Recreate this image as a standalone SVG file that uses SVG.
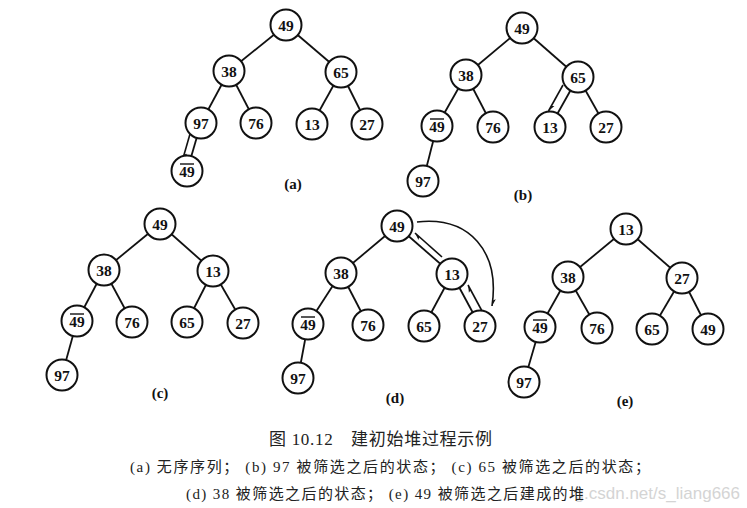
<svg xmlns="http://www.w3.org/2000/svg" width="747" height="508" viewBox="0 0 747 508">
<defs>
<style>
.e{stroke:#111;stroke-width:1.8;fill:none}
.a{stroke:#111;stroke-width:1.6;fill:none}
.n circle{fill:#fff;stroke:#111;stroke-width:2}
.n text{font-family:"Liberation Serif","DejaVu Serif",serif;font-weight:bold;font-size:15.5px;text-anchor:middle;fill:#111}
.ob{stroke:#111;stroke-width:1.4}
.lb{font-family:"Liberation Serif","DejaVu Serif",serif;font-weight:bold;font-size:15px;text-anchor:middle;fill:#111}
.cap{font-family:"Liberation Serif","Noto Sans CJK SC",serif;fill:#222}
</style>
<marker id="barb" viewBox="-10 -5 12 10" markerWidth="10" markerHeight="8" refX="0" refY="0" orient="auto" markerUnits="userSpaceOnUse">
<path d="M0,0 L-9,-3.5 L-7,0 z" fill="#111"/>
</marker>
</defs>
<rect width="747" height="508" fill="#fff"/>

<g id="connectors">
<!-- (a) -->
<line class="e" x1="286" y1="25" x2="229" y2="71"/>
<line class="e" x1="286" y1="25" x2="341" y2="72"/>
<line class="e" x1="229" y1="71" x2="201" y2="123"/>
<line class="e" x1="229" y1="71" x2="256" y2="123"/>
<line class="e" x1="341" y1="72" x2="312" y2="124"/>
<line class="e" x1="341" y1="72" x2="367" y2="124"/>
<line class="e" x1="201" y1="123" x2="187" y2="171"/>
<line class="a" x1="190" y1="134" x2="182.5" y2="160" marker-end="url(#barb)"/>
<!-- (b) -->
<line class="e" x1="522" y1="28" x2="466" y2="75"/>
<line class="e" x1="522" y1="28" x2="578" y2="77"/>
<line class="e" x1="466" y1="75" x2="437" y2="126"/>
<line class="e" x1="466" y1="75" x2="493" y2="127"/>
<line class="e" x1="578" y1="77" x2="550" y2="127"/>
<line class="e" x1="578" y1="77" x2="606" y2="127"/>
<line class="e" x1="437" y1="126" x2="423" y2="181"/>
<line class="a" x1="563" y1="85" x2="548.5" y2="111" marker-end="url(#barb)"/>
<!-- (c) -->
<line class="e" x1="160" y1="224" x2="104" y2="270"/>
<line class="e" x1="160" y1="224" x2="213" y2="271"/>
<line class="e" x1="104" y1="270" x2="77" y2="321"/>
<line class="e" x1="104" y1="270" x2="132" y2="322"/>
<line class="e" x1="213" y1="271" x2="187" y2="322"/>
<line class="e" x1="213" y1="271" x2="243" y2="323"/>
<line class="e" x1="77" y1="321" x2="62" y2="375"/>
<!-- (d) -->
<line class="e" x1="397" y1="226" x2="341" y2="273"/>
<line class="e" x1="397" y1="226" x2="452" y2="274"/>
<line class="e" x1="341" y1="273" x2="308" y2="324"/>
<line class="e" x1="341" y1="273" x2="368" y2="325"/>
<line class="e" x1="452" y1="274" x2="424" y2="326"/>
<line class="e" x1="452" y1="274" x2="480" y2="326"/>
<line class="e" x1="308" y1="324" x2="298" y2="378"/>
<line class="a" x1="442" y1="257" x2="415" y2="233" marker-end="url(#barb)"/>
<line class="a" x1="482" y1="311" x2="468" y2="285" marker-end="url(#barb)"/>
<path class="a" d="M417,222 C470,216 500,252 492,306" marker-end="url(#barb)"/>
<!-- (e) -->
<line class="e" x1="626" y1="229" x2="568" y2="277"/>
<line class="e" x1="626" y1="229" x2="682" y2="278"/>
<line class="e" x1="568" y1="277" x2="540" y2="327"/>
<line class="e" x1="568" y1="277" x2="597" y2="328"/>
<line class="e" x1="682" y1="278" x2="652" y2="329"/>
<line class="e" x1="682" y1="278" x2="708" y2="329"/>
<line class="e" x1="540" y1="327" x2="524" y2="382"/>
</g>

<!-- tree (a) -->
<g id="a49" class="n"><circle cx="286" cy="25" r="15.5"/><text x="286" y="30.5">49</text></g>
<g id="a38" class="n"><circle cx="229" cy="71" r="15.5"/><text x="229" y="76.5">38</text></g>
<g id="a65" class="n"><circle cx="341" cy="72" r="15.5"/><text x="341" y="77.5">65</text></g>
<g id="a97" class="n"><circle cx="201" cy="123" r="15.5"/><text x="201" y="128.5">97</text></g>
<g id="a76" class="n"><circle cx="256" cy="123" r="15.5"/><text x="256" y="128.5">76</text></g>
<g id="a13" class="n"><circle cx="312" cy="124" r="15.5"/><text x="312" y="129.5">13</text></g>
<g id="a27" class="n"><circle cx="367" cy="124" r="15.5"/><text x="367" y="129.5">27</text></g>
<g id="a49b" class="n"><circle cx="187" cy="171" r="15.5"/><text x="187" y="177">49</text><line class="ob" x1="180" y1="164" x2="194" y2="164"/></g>
<text class="lb" x="293" y="189">(a)</text>

<!-- tree (b) -->
<g id="b49" class="n"><circle cx="522" cy="28" r="15.5"/><text x="522" y="33.5">49</text></g>
<g id="b38" class="n"><circle cx="466" cy="75" r="15.5"/><text x="466" y="80.5">38</text></g>
<g id="b65" class="n"><circle cx="578" cy="77" r="15.5"/><text x="578" y="82.5">65</text></g>
<g id="b49b" class="n"><circle cx="437" cy="126" r="15.5"/><text x="437" y="132">49</text><line class="ob" x1="430" y1="119" x2="444" y2="119"/></g>
<g id="b76" class="n"><circle cx="493" cy="127" r="15.5"/><text x="493" y="132.5">76</text></g>
<g id="b13" class="n"><circle cx="550" cy="127" r="15.5"/><text x="550" y="132.5">13</text></g>
<g id="b27" class="n"><circle cx="606" cy="127" r="15.5"/><text x="606" y="132.5">27</text></g>
<g id="b97" class="n"><circle cx="423" cy="181" r="15.5"/><text x="423" y="186.5">97</text></g>
<text class="lb" x="523" y="200">(b)</text>

<!-- tree (c) -->
<g id="c49" class="n"><circle cx="160" cy="224" r="15.5"/><text x="160" y="229.5">49</text></g>
<g id="c38" class="n"><circle cx="104" cy="270" r="15.5"/><text x="104" y="275.5">38</text></g>
<g id="c13" class="n"><circle cx="213" cy="271" r="15.5"/><text x="213" y="276.5">13</text></g>
<g id="c49b" class="n"><circle cx="77" cy="321" r="15.5"/><text x="77" y="327">49</text><line class="ob" x1="70" y1="314" x2="84" y2="314"/></g>
<g id="c76" class="n"><circle cx="132" cy="322" r="15.5"/><text x="132" y="327.5">76</text></g>
<g id="c65" class="n"><circle cx="187" cy="322" r="15.5"/><text x="187" y="327.5">65</text></g>
<g id="c27" class="n"><circle cx="243" cy="323" r="15.5"/><text x="243" y="328.5">27</text></g>
<g id="c97" class="n"><circle cx="62" cy="375" r="15.5"/><text x="62" y="380.5">97</text></g>
<text class="lb" x="160" y="398">(c)</text>

<!-- tree (d) -->
<g id="d49" class="n"><circle cx="397" cy="226" r="15.5"/><text x="397" y="231.5">49</text></g>
<g id="d38" class="n"><circle cx="341" cy="273" r="15.5"/><text x="341" y="278.5">38</text></g>
<g id="d13" class="n"><circle cx="452" cy="274" r="15.5"/><text x="452" y="279.5">13</text></g>
<g id="d49b" class="n"><circle cx="308" cy="324" r="15.5"/><text x="308" y="330">49</text><line class="ob" x1="301" y1="317" x2="315" y2="317"/></g>
<g id="d76" class="n"><circle cx="368" cy="325" r="15.5"/><text x="368" y="330.5">76</text></g>
<g id="d65" class="n"><circle cx="424" cy="326" r="15.5"/><text x="424" y="331.5">65</text></g>
<g id="d27" class="n"><circle cx="480" cy="326" r="15.5"/><text x="480" y="331.5">27</text></g>
<g id="d97" class="n"><circle cx="298" cy="378" r="15.5"/><text x="298" y="383.5">97</text></g>
<text class="lb" x="395" y="403">(d)</text>

<!-- tree (e) -->
<g id="e13" class="n"><circle cx="626" cy="229" r="15.5"/><text x="626" y="234.5">13</text></g>
<g id="e38" class="n"><circle cx="568" cy="277" r="15.5"/><text x="568" y="282.5">38</text></g>
<g id="e27" class="n"><circle cx="682" cy="278" r="15.5"/><text x="682" y="283.5">27</text></g>
<g id="e49b" class="n"><circle cx="540" cy="327" r="15.5"/><text x="540" y="333">49</text><line class="ob" x1="533" y1="320" x2="547" y2="320"/></g>
<g id="e76" class="n"><circle cx="597" cy="328" r="15.5"/><text x="597" y="333.5">76</text></g>
<g id="e65" class="n"><circle cx="652" cy="329" r="15.5"/><text x="652" y="334.5">65</text></g>
<g id="e49" class="n"><circle cx="708" cy="329" r="15.5"/><text x="708" y="334.5">49</text></g>
<g id="e97" class="n"><circle cx="524" cy="382" r="15.5"/><text x="524" y="387.5">97</text></g>
<text class="lb" x="625" y="406">(e)</text>

<!-- captions -->
<text x="740" y="499" text-anchor="end" font-family="'Liberation Sans',Arial,sans-serif" font-size="17" fill="#d4d4d4">g.csdn.net/s_liang666</text>
<text class="cap" x="269" y="445" font-size="17" textLength="223" lengthAdjust="spacing">图 10.12　建初始堆过程示例</text>
<text class="cap" x="130" y="472" font-size="15" textLength="520" lengthAdjust="spacing">(a) 无序序列； (b) 97 被筛选之后的状态； (c) 65 被筛选之后的状态；</text>
<text class="cap" x="186" y="499" font-size="15" textLength="398" lengthAdjust="spacing">(d) 38 被筛选之后的状态； (e) 49 被筛选之后建成的堆</text>
</svg>
